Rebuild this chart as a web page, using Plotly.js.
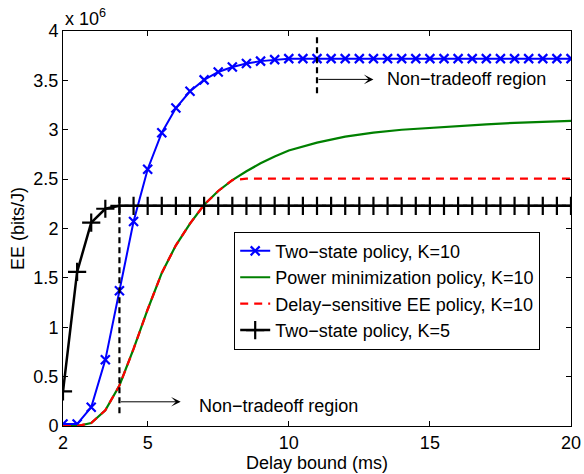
<!DOCTYPE html>
<html>
<head>
<meta charset="utf-8">
<script src="https://cdn.plot.ly/plotly-3.0.1.min.js"></script>
<style>html,body{margin:0;padding:0;background:#fff;}#chart{width:584px;height:474px;}</style>
</head>
<body>
<div id="chart"></div>
<script>
// Delay bound (ms)
const delayFine = [2,2.5,3,3.5,4,4.5,5,5.5,6,6.5,7,7.5,8,8.5,9,9.5,10,10.5,11,11.5,12,12.5,13,13.5,14,14.5,15,15.5,16,16.5,17,17.5,18,18.5,19,19.5,20];
const delayPM = [2,2.5,3,3.5,4,4.5,5,5.5,6,6.5,7,7.5,8,8.5,9,9.5,10,11,12,13,14,15,16,17,18,19,20];
const delayDS = [2,2.5,3,3.5,4,4.5,5,5.5,6,6.5,7,7.5,8,8.5,9,10,12,14,16,18,20];

// EE (bits/J), in units of 10^6
const twoStateK10 = [0.02,0.02,0.19,0.67,1.37,2.07,2.60,2.97,3.22,3.39,3.505,3.585,3.635,3.67,3.695,3.71,3.72,3.72,3.72,3.72,3.72,3.72,3.72,3.72,3.72,3.72,3.72,3.72,3.72,3.72,3.72,3.72,3.72,3.72,3.72,3.72,3.72];
const powerMinK10 = [0,0,0.03,0.16,0.41,0.78,1.18,1.55,1.83,2.05,2.24,2.38,2.49,2.58,2.66,2.73,2.79,2.87,2.93,2.97,3.00,3.02,3.04,3.055,3.07,3.08,3.09];
const delaySensK10 = [0,0,0.03,0.16,0.41,0.78,1.18,1.55,1.83,2.05,2.24,2.38,2.49,2.505,2.505,2.505,2.505,2.505,2.505,2.505,2.505];
const twoStateK5 = [0.35,1.56,2.06,2.20,2.23,2.23,2.23,2.23,2.23,2.23,2.23,2.23,2.23,2.23,2.23,2.23,2.23,2.23,2.23,2.23,2.23,2.23,2.23,2.23,2.23,2.23,2.23,2.23,2.23,2.23,2.23,2.23,2.23,2.23,2.23,2.23,2.23];

const seriesNames = ['Two\u2212state policy, K=10','Power minimization policy, K=10','Delay\u2212sensitive EE policy, K=10','Two\u2212state policy, K=5'];
const xTicks = [2,5,10,15,20];
const yTicks = [0,0.5,1,1.5,2,2.5,3,3.5,4];
const yTickText = ['0','0.5','1','1.5','2','2.5','3','3.5','4'];
const regionLabel = 'Non\u2212tradeoff region';

// annotation anchors (data coords)
const upperRegion = {x: 11, y0: 3.37, y1: 3.95, arrowY: 3.51, arrowEnd: 13, textX: 13.4};
const lowerRegion = {x: 4, y0: 0.13, y1: 2.31, arrowY: 0.245, arrowEnd: 6.17, textX: 6.75};

const FONT = 'Liberation Sans, Arial, Helvetica, sans-serif';

const traces = [
  {x: delayFine, y: twoStateK10, name: seriesNames[0], mode: 'lines+markers',
   line: {color: '#0000ff', width: 2},
   marker: {symbol: 'x-thin-open', size: 9, color: '#0000ff', line: {color: '#0000ff', width: 2.2}}},
  {x: delayPM, y: powerMinK10, name: seriesNames[1], mode: 'lines',
   line: {color: '#008000', width: 2.2}},
  {x: delayDS, y: delaySensK10, name: seriesNames[2], mode: 'lines',
   line: {color: '#ff0000', width: 2.2, dash: '8px,6px'}},
  {x: delayFine, y: twoStateK5, name: seriesNames[3], mode: 'lines+markers',
   line: {color: '#000000', width: 2.5},
   marker: {symbol: 'cross-thin-open', size: 13, color: '#000000', line: {color: '#000000', width: 2.2}}}
];

const layout = {
  width: 584, height: 474,
  margin: {l: 63, r: 13, t: 31, b: 48, pad: 0},
  paper_bgcolor: '#ffffff', plot_bgcolor: '#ffffff',
  font: {family: FONT, size: 18, color: '#000'},
  showlegend: true,
  legend: {x: 0.337, y: 0.492, xanchor: 'left', yanchor: 'top',
    bgcolor: '#ffffff', bordercolor: '#000', borderwidth: 1,
    font: {family: FONT, size: 18, color: '#000'}, tracegroupgap: 0},
  xaxis: {range: [2, 20], tickvals: xTicks, ticks: 'inside', ticklen: 5, tickcolor: '#000',
    showline: true, linecolor: '#000', linewidth: 1, mirror: 'ticks', showgrid: false, zeroline: false,
    tickfont: {family: FONT, size: 18, color: '#000'},
    title: {text: 'Delay bound (ms)', font: {family: FONT, size: 18, color: '#000'}, standoff: 2}},
  yaxis: {range: [0, 4], tickvals: yTicks, ticktext: yTickText, ticks: 'inside', ticklen: 5, tickcolor: '#000',
    showline: true, linecolor: '#000', linewidth: 1, mirror: 'ticks', showgrid: false, zeroline: false,
    tickfont: {family: FONT, size: 18, color: '#000'},
    title: {text: 'EE (bits/J)', font: {family: FONT, size: 18, color: '#000'}, standoff: 4}},
  shapes: [
    {type: 'line', xref: 'x', yref: 'y', x0: upperRegion.x, x1: upperRegion.x, y0: upperRegion.y0, y1: upperRegion.y1,
     line: {color: '#000', width: 2.2, dash: '6px,4px'}},
    {type: 'line', xref: 'x', yref: 'y', x0: lowerRegion.x, x1: lowerRegion.x, y0: lowerRegion.y0, y1: lowerRegion.y1,
     line: {color: '#000', width: 2.2, dash: '6px,4px'}}
  ],
  annotations: [
    {xref: 'x', yref: 'y', axref: 'x', ayref: 'y', x: upperRegion.arrowEnd, y: upperRegion.arrowY,
     ax: upperRegion.x, ay: upperRegion.arrowY, text: '', showarrow: true, arrowhead: 3, arrowsize: 1.6, arrowwidth: 1, arrowcolor: '#000', standoff: 0, startstandoff: 0},
    {xref: 'x', yref: 'y', x: upperRegion.textX, y: upperRegion.arrowY, text: regionLabel, showarrow: false,
     xanchor: 'left', yanchor: 'middle', font: {family: FONT, size: 18, color: '#000'}},
    {xref: 'x', yref: 'y', axref: 'x', ayref: 'y', x: lowerRegion.arrowEnd, y: lowerRegion.arrowY,
     ax: lowerRegion.x, ay: lowerRegion.arrowY, text: '', showarrow: true, arrowhead: 3, arrowsize: 1.6, arrowwidth: 1, arrowcolor: '#000', standoff: 0, startstandoff: 0},
    {xref: 'x', yref: 'y', x: lowerRegion.textX, y: lowerRegion.arrowY - 0.045, text: regionLabel, showarrow: false,
     xanchor: 'left', yanchor: 'middle', font: {family: FONT, size: 18, color: '#000'}},
    {xref: 'paper', yref: 'paper', x: 0, y: 1, xanchor: 'left', yanchor: 'bottom', yshift: 0,
     text: 'x 10<sup>6</sup>', showarrow: false, font: {family: FONT, size: 18, color: '#000'}}
  ]
};

Plotly.newPlot('chart', traces, layout, {displayModeBar: false, staticPlot: true});
</script>
</body>
</html>
